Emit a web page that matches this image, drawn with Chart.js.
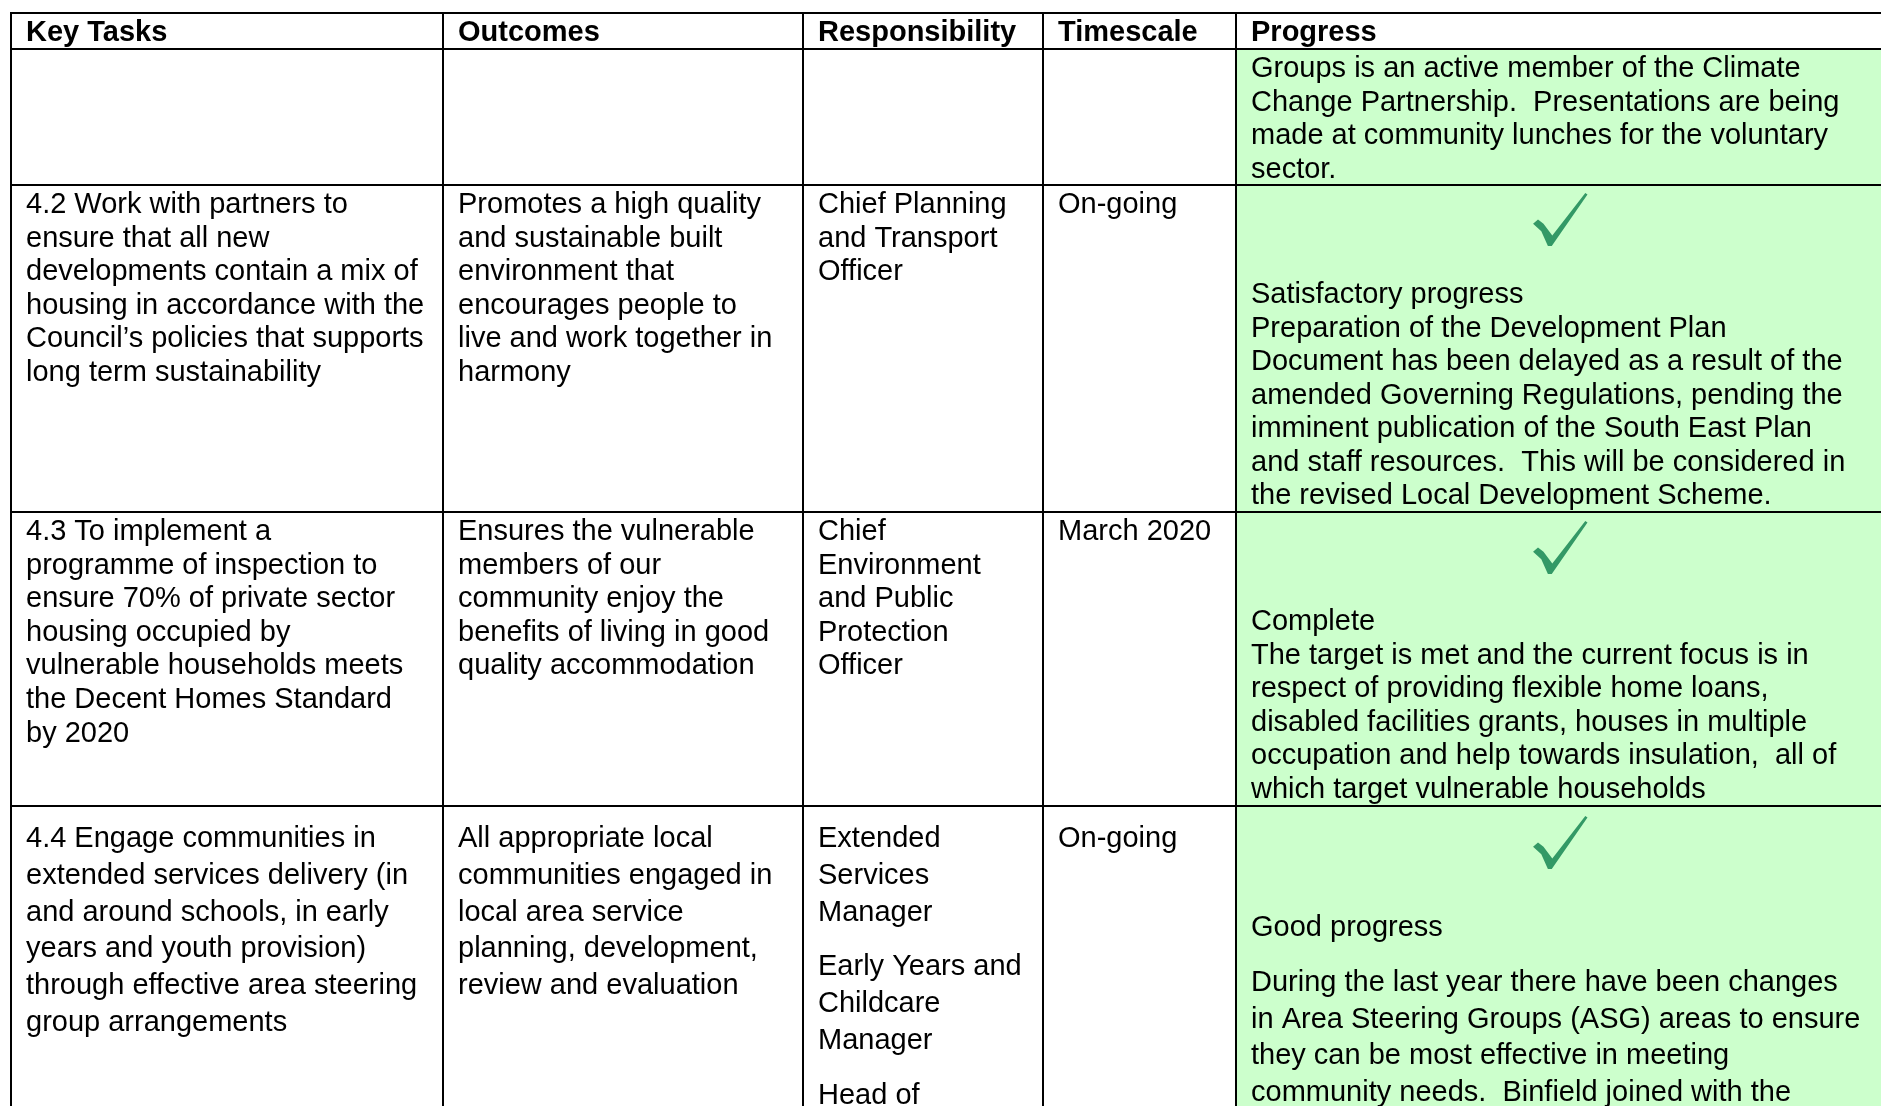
<!DOCTYPE html>
<html>
<head>
<meta charset="utf-8">
<script src="https://cdn.jsdelivr.net/npm/chart.js"></script>
<style>
  html, body { margin: 0; padding: 0; background: #fff; }
  canvas { display: block; }
</style>
</head>
<body>
<canvas id="tableChart" width="1881" height="1106"></canvas>
<script>
const headers = ["Key Tasks", "Outcomes", "Responsibility", "Timescale", "Progress"];

// every cell is a list of paragraphs, every paragraph a list of lines
const keyTasks = [
  [],
  [["4.2 Work with partners to", "ensure that all new", "developments contain a mix of", "housing in accordance with the", "Council\u2019s policies that supports", "long term sustainability"]],
  [["4.3 To implement a", "programme of inspection to", "ensure 70% of private sector", "housing occupied by", "vulnerable households meets", "the Decent Homes Standard", "by 2020"]],
  [["4.4 Engage communities in", "extended services delivery (in", "and around schools, in early", "years and youth provision)", "through effective area steering", "group arrangements"]]
];
const outcomes = [
  [],
  [["Promotes a high quality", "and sustainable built", "environment that", "encourages people to", "live and work together in", "harmony"]],
  [["Ensures the vulnerable", "members of our", "community enjoy the", "benefits of living in good", "quality accommodation"]],
  [["All appropriate local", "communities engaged in", "local area service", "planning, development,", "review and evaluation"]]
];
const responsibility = [
  [],
  [["Chief Planning", "and Transport", "Officer"]],
  [["Chief", "Environment", "and Public", "Protection", "Officer"]],
  [["Extended", "Services", "Manager"], ["Early Years and", "Childcare", "Manager"], ["Head of"]]
];
const timescale = [[], [["On-going"]], [["March 2020"]], [["On-going"]]];
const ticks = [false, true, true, true];
const progress = [
  [["Groups is an active member of the Climate", "Change Partnership.  Presentations are being", "made at community lunches for the voluntary", "sector."]],
  [["Satisfactory progress", "Preparation of the Development Plan", "Document has been delayed as a result of the", "amended Governing Regulations, pending the", "imminent publication of the South East Plan", "and staff resources.  This will be considered in", "the revised Local Development Scheme."]],
  [["Complete", "The target is met and the current focus is in", "respect of providing flexible home loans,", "disabled facilities grants, houses in multiple", "occupation and help towards insulation,  all of", "which target vulnerable households"]],
  [["Good progress"], ["During the last year there have been changes", "in Area Steering Groups (ASG) areas to ensure", "they can be most effective in meeting", "community needs.  Binfield joined with the"]]
];

const columns = [keyTasks, outcomes, responsibility, timescale, progress];

// layout of the page (scale units)
const colEdges = [11, 443, 803, 1043, 1236, 1884];
const rowEdges = [13, 49, 185, 512, 806, 1300];
const rowStyle = [
  { first: 28, lead: 33.6, gap: 0, tick: 0, text: 28 },
  { first: 28, lead: 33.5, gap: 0, tick: 8, text: 118 },
  { first: 28, lead: 33.6, gap: 0, tick: 9, text: 118 },
  { first: 41, lead: 36.8, gap: 18, tick: 10, text: 130 }
];

const FONT = '"Liberation Sans", Arial, sans-serif';

// brush-like tick mark, centred on cx
function drawTick(ctx, cx, top) {
  const w = 55, h = 53, l = cx - w / 2;
  const pts = [[0.01, 0.58], [0.10, 0.50], [0.20, 0.58], [0.36, 0.80], [0.96, 0.0],
               [1.0, 0.03], [0.35, 1.0], [0.28, 1.0], [0.16, 0.72]];
  ctx.beginPath();
  pts.forEach(([a, b], i) => {
    const px = l + a * w, py = top + b * h;
    i ? ctx.lineTo(px, py) : ctx.moveTo(px, py);
  });
  ctx.closePath();
  ctx.fillStyle = '#339966';
  ctx.fill();
}

const tablePlugin = {
  id: 'tablePlugin',
  afterDraw(chart) {
    const { ctx, scales: { x, y } } = chart;
    const X = v => x.getPixelForValue(v);
    const Y = v => y.getPixelForValue(v);
    ctx.save();

    // green progress cells
    ctx.fillStyle = '#ccffcc';
    ctx.fillRect(X(colEdges[4]), Y(rowEdges[1]), X(colEdges[5]) - X(colEdges[4]), Y(rowEdges[5]) - Y(rowEdges[1]));

    // header
    ctx.fillStyle = '#000';
    ctx.textBaseline = 'alphabetic';
    ctx.font = 'bold 29px ' + FONT;
    headers.forEach((h, c) => ctx.fillText(h, X(colEdges[c] + 15), Y(rowEdges[0] + 28)));

    // body
    ctx.font = '29px ' + FONT;
    for (let r = 0; r < 4; r++) {
      const st = rowStyle[r];
      const top = rowEdges[r + 1];
      columns.forEach((col, c) => {
        let base = top + (c === 4 ? st.text : st.first);
        col[r].forEach(par => {
          par.forEach(line => {
            ctx.fillStyle = '#000';
            ctx.fillText(line, X(colEdges[c] + 15), Y(base));
            base += st.lead;
          });
          base += st.gap;
        });
      });
      if (ticks[r]) drawTick(ctx, X((colEdges[4] + colEdges[5]) / 2), Y(top + st.tick));
    }

    // grid
    ctx.strokeStyle = '#000';
    ctx.lineWidth = 2;
    rowEdges.forEach(v => {
      ctx.beginPath();
      ctx.moveTo(X(colEdges[0]) - 1, Y(v));
      ctx.lineTo(X(colEdges[5]) + 1, Y(v));
      ctx.stroke();
    });
    colEdges.forEach(v => {
      ctx.beginPath();
      ctx.moveTo(X(v), Y(rowEdges[0]) - 1);
      ctx.lineTo(X(v), Y(rowEdges[5]));
      ctx.stroke();
    });
    ctx.restore();
  }
};

new Chart("tableChart", {
  type: "scatter",
  data: { datasets: [] },
  options: {
    responsive: false,
    animation: false,
    layout: { padding: 0 },
    plugins: { legend: { display: false }, tooltip: { enabled: false } },
    scales: {
      x: { type: 'linear', min: 0, max: 1881, display: false },
      y: { type: 'linear', min: 0, max: 1106, reverse: true, display: false }
    }
  },
  plugins: [tablePlugin]
});
</script>
</body>
</html>
